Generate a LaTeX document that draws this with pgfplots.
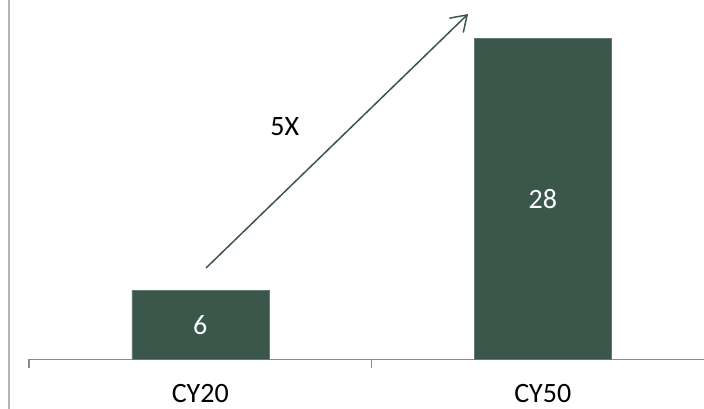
\documentclass[border=0pt]{standalone}
\usepackage{fontspec}
\setmainfont{Carlito}
\usepackage{pgfplots}
\pgfplotsset{compat=1.18}
\usetikzlibrary{arrows.meta}
\definecolor{bargreen}{HTML}{3B574C}
\definecolor{axisgrey}{HTML}{8C8C8C}
\definecolor{framegrey}{HTML}{B4B4B4}
\begin{document}
\begin{tikzpicture}
\clip (0,0) rectangle (704bp,409bp);
\fill[white] (0,0) rectangle (704bp,409bp);
\begin{axis}[
  at={(29bp,49.7bp)}, anchor=south west,
  scale only axis,
  width=685bp, height=359.3bp,
  xmin=-0.5, xmax=1.5,
  ymin=0, ymax=31.35,
  axis x line=bottom,
  axis y line=none,
  axis line style={axisgrey, line width=1.5bp, -},
  xtick={0,1},
  xticklabels={CY20,CY50},
  major tick length=0pt,
  minor xtick={-0.5,0.5,1.5},
  minor tick length=9bp,
  xtick align=outside,
  minor tick style={axisgrey, line width=1.5bp},
  xticklabel style={font=\fontsize{28bp}{33bp}\selectfont, text=black,
    inner sep=0pt, text depth=0pt, anchor=north, yshift=-25bp},
  clip=false,
]
\addplot[ybar, bar width=137bp, fill=bargreen, draw=bargreen!80!white, line width=0.5bp]
  coordinates {(0,6) (1,28)};
\node[text=white, font=\fontsize{28bp}{33bp}\selectfont] at (axis cs:0,3) {6};
\node[text=white, font=\fontsize{28bp}{33bp}\selectfont] at (axis cs:1,14) {28};
\draw[bargreen, line width=1.5bp, -{Straight Barb[length=15bp, width=20bp]}]
  (axis cs:0.017,7.97) -- (axis cs:0.782,30.13);
\node[font=\fontsize{28bp}{33bp}\selectfont] at (axis cs:0.247,20.27) {5X};
\end{axis}
% left frame line
\draw[framegrey, line width=2bp] (9bp,-1bp) -- (9bp,410bp);
\end{tikzpicture}
\end{document}
